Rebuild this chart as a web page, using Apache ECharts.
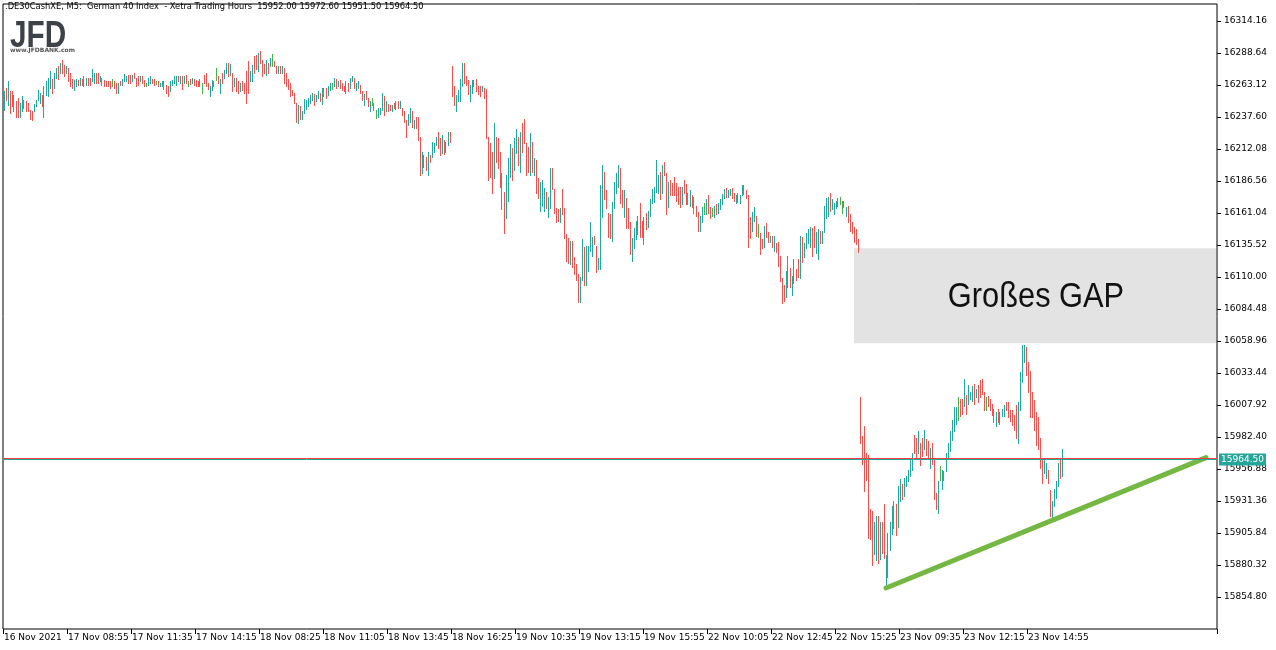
<!DOCTYPE html>
<html>
<head>
<meta charset="utf-8">
<script src="https://cdn.jsdelivr.net/npm/echarts@6/dist/echarts.min.js"></script>
<style>
  html, body { margin: 0; padding: 0; background: #ffffff; }
  #chart { width: 1276px; height: 650px; }
</style>
</head>
<body>
<div id="chart"></div>
<script>
// ---------------- DATA ----------------
const titleText = '.DE30CashXE, M5:  German 40 Index  - Xetra Trading Hours  15952.00 15972.60 15951.50 15964.50';

// x-axis tick labels, one every 32 five-minute bars
const tickLabels = ['16 Nov 2021', '17 Nov 08:55', '17 Nov 11:35', '17 Nov 14:15', '18 Nov 08:25',
  '18 Nov 11:05', '18 Nov 13:45', '18 Nov 16:25', '19 Nov 10:35', '19 Nov 13:15', '19 Nov 15:55',
  '22 Nov 10:05', '22 Nov 12:45', '22 Nov 15:25', '23 Nov 09:35', '23 Nov 12:15', '23 Nov 14:55'];
const barsPerLabel = 32;
const slotCount = 607; // bar slots visible on the chart (incl. empty right margin)

// bar highs (M5)
const highs = [
  16258,16261,16266,16258,16258,16255,16250,16253,16249,16254,
  16251,16250,16249,16243,16242,16248,16251,16259,16257,16255,
  16262,16266,16269,16274,16268,16273,16277,16278,16281,16283,
  16279,16278,16277,16273,16268,16267,16268,16267,16269,16268,
  16270,16269,16269,16269,16276,16273,16273,16273,16270,16269,
  16267,16266,16266,16266,16268,16266,16265,16265,16266,16268,
  16272,16270,16271,16271,16271,16273,16269,16270,16270,16270,
  16267,16265,16269,16270,16268,16268,16266,16266,16265,16266,
  16266,16263,16262,16266,16267,16270,16270,16270,16270,16270,
  16270,16271,16266,16268,16269,16268,16267,16266,16268,16265,
  16271,16273,16265,16262,16267,16266,16277,16270,16268,16273,
  16275,16281,16281,16280,16273,16269,16269,16266,16265,16266,
  16265,16274,16282,16274,16279,16286,16287,16289,16290,16283,
  16280,16283,16281,16285,16288,16282,16278,16278,16278,16278,
  16277,16273,16268,16265,16259,16257,16249,16247,
  16246,16242,
  16252,16251,16253,16255,16257,16256,16255,16258,16257,16261,
  16261,16261,16262,16265,16265,16269,16268,16266,16267,16265,
  16262,16266,16265,16269,16270,16269,16265,16266,16263,16258,
  16256,16258,16253,16250,16253,16249,16243,16245,16245,16257,
  16254,16250,16248,16247,16247,16249,16250,16250,16250,16245,
  16242,16235,16240,16245,16242,16235,16238,16238,16222,16210,
  16207,16206,16210,16207,16218,16217,16222,16226,16221,16223,
  16219,16218,16226,16226,
  16278,16262,16255,16259,16268,16281,
  16281,16270,16267,16263,16267,16267,16268,16262,16262,16262,
  16261,16260,16222,16217,16210,16233,16222,16221,16210,16193,
  16178,16191,16205,16216,16213,16221,16228,16222,16226,16233,
  16236,16217,16214,16225,16218,16205,16203,16189,16186,16187,
  16181,16178,16174,16197,16197,16180,16165,16164,16165,16180,
  16165,16144,16141,16139,16139,16126,16120,16112,16110,16140,
  16134,16135,16135,16154,16142,16143,16135,16125,16183,16199,
  16194,16179,16161,16160,16170,16186,16193,16199,16197,16179,
  16179,16173,16165,16154,16141,16149,16155,16159,
  16169,16155,
  16158,16161,16163,16172,16180,16182,16203,16191,16194,16199,
  16202,16193,16186,16187,16185,16190,16185,16182,16182,16182,
  16187,16184,16177,16179,16175,16174,16167,16162,16159,16166,
  16169,16172,16175,16166,16165,16167,16168,16169,16172,16176,
  16180,16181,16179,16180,16181,16177,16175,16177,16175,16183,
  16183,16179,16175,16158,16162,16166,16159,16152,16145,16140,
  16151,16153,16146,16143,16143,16143,16137,16138,16127,16109,
  16104,16115,16127,16117,16111,16124,16116,16124,16143,16142,
  16137,16145,16148,16150,16149,16151,16146,16148,16147,16147,
  16167,16173,16174,16177,16172,16169,16171,16173,16174,16171,
  16171,16166,16167,16160,16154,16150,16148,16140,
  16014,15983,
  15991,15970,15968,15925,15923,15915,15919,15919,15915,15915,
  15929,15888,15906,15915,15927,15931,15929,15943,15949,15945,
  15950,15951,15956,15964,15970,15984,15982,15987,15978,15982,
  15988,15981,15979,15974,15978,15964,15938,15947,15959,15956,
  15955,15970,15978,15987,15996,16006,16006,16014,16013,16013,
  16029,16016,16024,16018,16023,16025,16021,16024,16028,16029,
  16018,16014,16015,16013,16009,16005,16002,16005,16002,16005,
  16008,16010,16010,16004,16004,16000,16008,16010,16034,16056,
  16056,16054,16042,16035,16018,16012,16002,15998,15982,15966,
  15966,15962,15956,15940,15931,15941,15947,15962,15966,15972.6
];

// bar lows (M5)
const lows = [
  16243,16251,16247,16241,16246,16242,16238,16238,16238,16242,
  16245,16242,16242,16236,16235,16242,16246,16251,16249,16246,
  16238,16255,16254,16261,16257,16261,16269,16268,16273,16273,
  16270,16273,16266,16262,16261,16259,16262,16263,16263,16263,
  16262,16263,16263,16263,16266,16265,16265,16265,16266,16263,
  16262,16262,16262,16261,16262,16261,16257,16257,16263,16263,
  16266,16266,16265,16265,16266,16269,16262,16263,16266,16265,
  16262,16262,16263,16265,16265,16263,16264,16262,16262,16262,
  16260,16257,16254,16258,16263,16265,16263,16266,16265,16260,
  16265,16265,16262,16264,16265,16263,16262,16262,16262,16257,
  16265,16262,16260,16254,16259,16262,16267,16265,16257,16265,
  16269,16273,16270,16271,16258,16262,16258,16257,16258,16259,
  16257,16249,16257,16266,16266,16273,16276,16274,16281,16270,
  16273,16271,16273,16278,16278,16278,16273,16273,16273,16273,
  16265,16262,16260,16254,16255,16249,16234,16233,
  16236,16236,
  16241,16244,16246,16249,16251,16247,16250,16253,16250,16248,
  16254,16253,16255,16259,16260,16262,16261,16262,16261,16259,
  16258,16257,16258,16261,16266,16261,16259,16261,16257,16251,
  16247,16252,16246,16242,16247,16243,16237,16238,16240,16243,
  16239,16242,16242,16243,16242,16245,16244,16245,16245,16239,
  16234,16222,16231,16234,16230,16229,16229,16219,16191,16193,
  16198,16195,16191,16202,16206,16210,16215,16213,16207,16209,
  16208,16210,16215,16218,
  16254,16247,16242,16250,16250,16262,
  16265,16263,16256,16250,16257,16262,16258,16256,16254,16258,
  16253,16221,16187,16190,16177,16189,16202,16197,16182,16164,
  16145,16157,16171,16190,16187,16195,16209,16199,16194,16210,
  16217,16191,16194,16191,16194,16191,16177,16173,16163,16167,
  16163,16165,16158,16165,16180,16161,16154,16155,16154,16160,
  16141,16123,16121,16120,16118,16112,16108,16090,16090,16108,
  16104,16104,16115,16131,16127,16136,16114,16116,16116,16158,
  16172,16165,16142,16141,16139,16165,16177,16182,16169,16166,
  16158,16149,16149,16128,16123,16133,16140,16144,
  16142,16142,
  16136,16148,16150,16159,16169,16170,16178,16177,16172,16177,
  16191,16160,16166,16175,16175,16175,16171,16168,16166,16168,
  16177,16168,16168,16167,16166,16161,16159,16147,16147,16154,
  16160,16160,16161,16157,16159,16158,16160,16161,16164,16168,
  16173,16174,16174,16175,16173,16171,16169,16170,16169,16175,
  16176,16173,16134,16141,16147,16155,16143,16142,16128,16133,
  16134,16142,16138,16138,16134,16131,16130,16119,16107,16089,
  16091,16094,16102,16102,16096,16105,16108,16110,16109,16122,
  16126,16133,16137,16134,16127,16134,16129,16124,16137,16137,
  16146,16157,16159,16163,16164,16160,16165,16167,16168,16161,
  16166,16159,16154,16147,16145,16138,16136,16130,
  15978,15961,
  15939,15948,15902,15901,15880,15889,15884,15882,15885,15890,
  15886,15863,15871,15892,15905,15910,15904,15911,15931,15933,
  15935,15943,15947,15951,15956,15970,15966,15970,15960,15967,
  15973,15968,15966,15958,15961,15933,15925,15922,15948,15941,
  15948,15955,15966,15971,15980,15987,15993,15996,15999,16001,
  16007,16001,16009,16013,16011,16009,16014,16010,16014,16017,
  16004,16004,16007,16004,16000,15994,15991,15994,15993,15999,
  15999,16004,15998,15995,15992,15988,15982,15978,16004,16026,
  16042,16032,16018,15998,15998,15988,15976,15973,15958,15946,
  15954,15950,15946,15919,15918,15927,15934,15943,15950,15951.5
];

// bar direction: u = up (close > open), d = down, g = doji / unchanged
const dirs = (
  'ududdudduu' + 'ddddduuuud' + 'uuuuduudud' + 'duddduudud' + 'dudduuddud' +
  'ddddgddudu' + 'uuddudddud' + 'dguuddgduu' + 'ddduuuudud' + 'udgdudddug' +
  'ddduudgdud' + 'uudududdud' + 'ddduuddudd' + 'dudugddudu' + 'dddddddu' +
  'du' + 'uuuuuduudu' + 'uduugududd' + 'duduuduudd' + 'uddugdguuu' + 'duddududud' +
  'dduududddu' + 'ududuuuddu' + 'duud' +
  'dduuuu' + 'ddduuudddu' + 'dddddudddd' + 'duuuduudud' + 'dddududduu' + 'uduuddddud' +
  'dddudddduu' + 'duuuudduuu' + 'dddduuuudd' + 'uddduuuu' +
  'dd' + 'uduuuuuudu' + 'dduddddddu' + 'dddudddduu' + 'guddguduuu' + 'uduudduduu' +
  'dddduudgdd' + 'uddududddd' + 'duuduuddud' + 'uuuudduudu' + 'uuuduuuugg' + 'dudddddd' +
  'dd' + 'ddddduudud' + 'duuuudduud' + 'uuuuuddudd' + 'uddudddugu' + 'duuuuuugdd' +
  'uduuududdd' + 'dgdddduduu' + 'udddddduuu' + 'uddddddddd' + 'uudduuuudu'
).split('');

// annotations
const bidPrice = 15964.5;
const askPrice = 15965.4;
const gapTop = 16132.9;
const gapBottom = 16057.1;
const gapStartBar = 425;
const gapLabel = 'Großes GAP';
const trendStart = [441, 15862];
const trendEnd = [601, 15966];

// y-axis scale (MT5 price scale)
const yMin = 15829.28;
const yMax = 16327.72;
const yStep = 25.52;

// ---------------- CHART ----------------
const UP = '#26a69a', DOWN = '#ef5350', DOJI = '#4caf50';
const cats = Array.from({length: slotCount}, (_, i) => String(i));
const barData = highs.map((h, i) => ({value: [i, h, lows[i]], dir: dirs[i]}));
const colorOf = (d) => d === 'u' ? UP : (d === 'd' ? DOWN : DOJI);

const chart = echarts.init(document.getElementById('chart'), null, {renderer: 'canvas'});
const axisFont = {fontFamily: 'DejaVu Sans', fontSize: 9, color: '#000'};

chart.setOption({
  animation: false,
  backgroundColor: '#ffffff',
  title: {
    text: titleText,
    left: 5, top: 3, padding: 0,
    textStyle: {fontFamily: 'DejaVu Sans', fontSize: 8.3, fontWeight: 'normal', color: '#000'}
  },
  grid: {
    left: 3, top: 4, width: 1214, height: 625, outerBoundsMode: 'none',
    show: true, borderColor: '#000', borderWidth: 1, backgroundColor: '#fff'
  },
  xAxis: {
    type: 'category', data: cats, boundaryGap: true,
    axisLine: {show: false},
    axisTick: {show: true, length: 5, lineStyle: {color: '#000'},
      interval: (idx) => idx % barsPerLabel === 0 && idx / barsPerLabel < tickLabels.length},
    axisLabel: Object.assign({}, axisFont, {
      margin: 4, align: 'left',
      interval: (idx) => idx % barsPerLabel === 0 && idx / barsPerLabel < tickLabels.length,
      formatter: (v) => tickLabels[Math.round(Number(v) / barsPerLabel)] || ''
    }),
    splitLine: {show: false}
  },
  yAxis: {
    type: 'value', position: 'right', scale: true,
    min: yMin, max: yMax, interval: yStep,
    axisLine: {show: false},
    axisTick: {show: true, length: 4, lineStyle: {color: '#000'}},
    axisLabel: Object.assign({}, axisFont, {
      margin: 7, showMinLabel: false, showMaxLabel: false,
      formatter: (v) => v.toFixed(2)
    }),
    splitLine: {show: false}
  },
  series: [
    {
      type: 'line', data: [], z: 1, silent: true,
      markArea: {
        silent: true,
        itemStyle: {color: '#e3e3e3', opacity: 1},
        label: {show: false},
        data: [[{xAxis: gapStartBar, yAxis: gapTop}, {xAxis: slotCount - 1, yAxis: gapBottom}]]
      }
    },
    {
      type: 'custom', z: 2, silent: true,
      data: barData,
      encode: {x: 0, y: [1, 2]},
      renderItem: function (params, api) {
        const i = api.value(0);
        const top = api.coord([i, api.value(1)]);
        const bot = api.coord([i, api.value(2)]);
        const col = colorOf(barData[params.dataIndex].dir);
        const x = Math.floor(top[0]) + 0.5;
        const y0 = Math.round(top[1]);
        const y1 = Math.max(y0 + 1, Math.round(bot[1]) + 1);
        return {
          type: 'line',
          shape: {x1: x, y1: y0, x2: x, y2: y1},
          style: {stroke: col, lineWidth: 1, fill: null}
        };
      }
    },
    {
      type: 'line', data: [], z: 3, silent: true,
      markLine: {
        silent: true, symbol: ['none', 'none'], animation: false,
        data: [
          [{coord: trendStart, lineStyle: {color: '#74b843', width: 5, type: 'solid', cap: 'round'}, label: {show: false}},
           {coord: trendEnd}],
          {yAxis: askPrice, lineStyle: {color: '#f0403c', width: 1, type: 'solid'}, label: {show: false}},
          {yAxis: bidPrice, lineStyle: {color: UP, width: 1, type: 'solid'},
            label: {show: true, position: 'end', distance: 2, formatter: bidPrice.toFixed(2),
              backgroundColor: UP, color: '#fff', fontFamily: 'DejaVu Sans', fontSize: 9,
              padding: [2, 2, 1, 2]}}
        ]
      }
    }
  ]
});

// gap caption, centred in the gap box via the chart's own scales (slightly condensed face)
const pA = chart.convertToPixel({gridIndex: 0}, [gapStartBar, gapTop]);
const pB = chart.convertToPixel({gridIndex: 0}, [slotCount - 1, gapBottom]);
chart.setOption({
  graphic: [
    {type: 'text', x: 10, y: 18, scaleX: 0.9, scaleY: 1.12, silent: true,
      style: {text: 'JFD', font: 'bold 33px "Liberation Sans"', fill: '#3d4148'}},
    {type: 'text', x: 10, y: 47, silent: true,
      style: {text: 'www.JFDBANK.com', font: 'bold 6px "DejaVu Sans"', fill: '#555'}},
    {type: 'text', x: (pA[0] + pB[0]) / 2 + 1, y: (pA[1] + pB[1]) / 2 + 2, scaleX: 0.88, silent: true, z: 5,
      style: {text: gapLabel, font: '35px "Liberation Sans"', fill: '#111',
        textAlign: 'center', textVerticalAlign: 'middle'}}
  ]
});
</script>
</body>
</html>
